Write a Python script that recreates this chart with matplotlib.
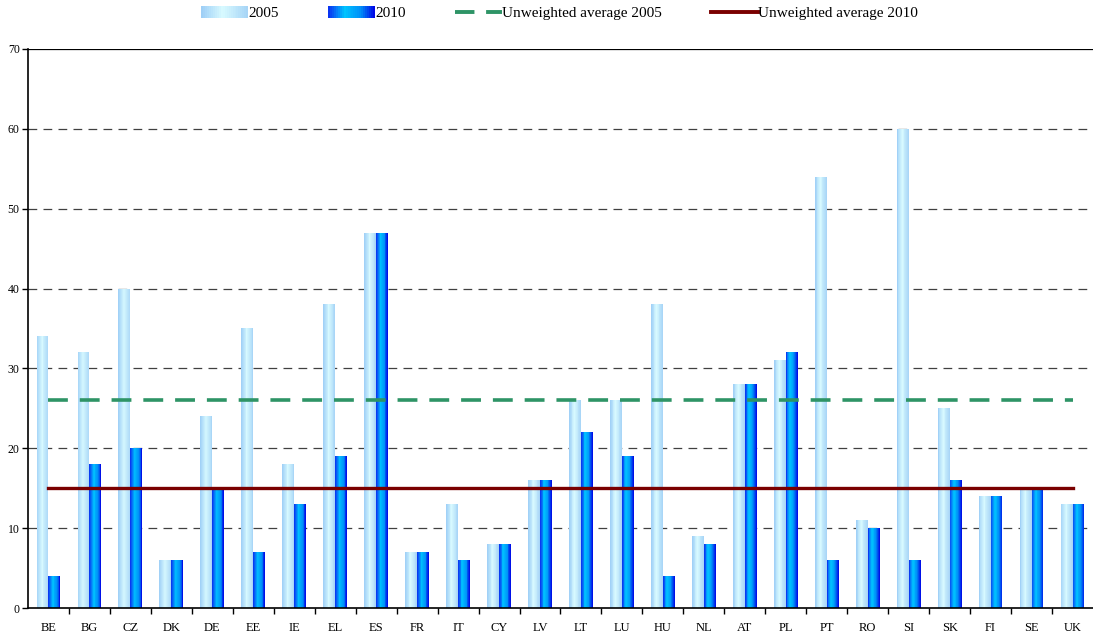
import numpy as np
import matplotlib
matplotlib.use("Agg")
import matplotlib.pyplot as plt
from matplotlib.colors import LinearSegmentedColormap
from matplotlib.patches import Rectangle
from matplotlib.lines import Line2D
from matplotlib.legend_handler import HandlerBase

countries = ["BE", "BG", "CZ", "DK", "DE", "EE", "IE", "EL", "ES", "FR", "IT", "CY", "LV",
             "LT", "LU", "HU", "NL", "AT", "PL", "PT", "RO", "SI", "SK", "FI", "SE", "UK"]
v2005 = [34, 32, 40, 6, 24, 35, 18, 38, 47, 7, 13, 8, 16, 26, 26, 38, 9, 28, 31, 54, 11, 60, 25, 14, 15, 13]
v2010 = [4, 18, 20, 6, 15, 7, 13, 19, 47, 7, 6, 8, 16, 22, 19, 4, 8, 28, 32, 6, 10, 6, 16, 14, 15, 13]
avg2005 = 26
avg2010 = 15

plt.rcParams['font.family'] = ['Liberation Serif', 'DejaVu Serif']

# horizontal gradients across each bar (left -> right)
cmap05 = LinearSegmentedColormap.from_list("c05", [(0, "#9ccdf6"), (0.45, "#d8faff"), (1, "#a6d4f6")])
cmap10 = LinearSegmentedColormap.from_list("c10", [(0, "#0a2cf0"), (0.35, "#00c4ff"), (0.7, "#0090f8"), (1, "#0000e6")])

NSTRIP = 14


def gradient_bars(ax, xs, heights, width, cmap):
    sw = width / NSTRIP
    for k in range(NSTRIP):
        c = cmap((k + 0.5) / NSTRIP)
        ax.bar(xs - width / 2 + sw * (k + 0.5), heights, width=sw * 1.02, color=c,
               linewidth=0, zorder=2)


class GradientHandler(HandlerBase):
    def __init__(self, cmap):
        super().__init__()
        self.cmap = cmap

    def create_artists(self, legend, orig_handle, xdescent, ydescent, width, height, fontsize, trans):
        arts = []
        n = 24
        for k in range(n):
            r = Rectangle((-xdescent + width * k / n, -ydescent), width / n * 1.05, height,
                          facecolor=self.cmap((k + 0.5) / n), linewidth=0, transform=trans)
            arts.append(r)
        return arts


fig = plt.figure(figsize=(10.93, 6.35), dpi=100)
ax = fig.add_axes([0.0256, 0.0425, 0.9744, 0.8805])

x = np.arange(len(countries))
bw = 0.29
gradient_bars(ax, x - bw / 2, np.array(v2005), bw, cmap05)
gradient_bars(ax, x + bw / 2, np.array(v2010), bw, cmap10)

ax.plot([x[0], x[-1]], [avg2005, avg2005], color="#2e9466", lw=2.6, dashes=(5.5, 3.3), zorder=3)
ax.plot([x[0], x[-1]], [avg2010, avg2010], color="#7a0000", lw=2.4, zorder=3)

ax.set_xlim(-0.5, len(countries) - 0.5)
ax.set_ylim(0, 70)
ax.set_yticks(range(0, 71, 10))
for yv in range(10, 70, 10):
    ax.axhline(yv, color="#404040", lw=0.9, dashes=(7, 5), zorder=1)
ax.axhline(70, color="black", lw=0.9, zorder=1)

ax.set_xticks(x)
ax.set_xticklabels(countries)
ax.set_xticks(np.arange(0.5, len(countries) - 0.5), minor=True)
ax.tick_params(axis="x", which="major", length=0, labelsize=9, pad=10)
ax.tick_params(axis="x", which="minor", length=4, width=1, direction="out")
ax.tick_params(axis="y", labelsize=8.5, length=4, width=1, pad=2)

for s in ["top", "right"]:
    ax.spines[s].set_visible(False)
ax.spines["left"].set_linewidth(1.2)
ax.spines["bottom"].set_linewidth(1.2)

h05 = Rectangle((0, 0), 1, 1)
h10 = Rectangle((0, 0), 1, 1)
hl1 = Line2D([], [], color="#2e9466", lw=2.8, dashes=(5.0, 3.0))
hl2 = Line2D([], [], color="#7a0000", lw=2.8)
fig.legend([h05, h10, hl1, hl2],
           ["2005", "2010", "Unweighted average 2005", "Unweighted average 2010"],
           handler_map={h05: GradientHandler(cmap05), h10: GradientHandler(cmap10)},
           loc="center", bbox_to_anchor=(0.512, 0.979), ncol=4, frameon=False,
           fontsize=11, handlelength=3.08, handleheight=0.75, handletextpad=0.02,
           columnspacing=3.2)

fig.savefig("out.png", dpi=100)
